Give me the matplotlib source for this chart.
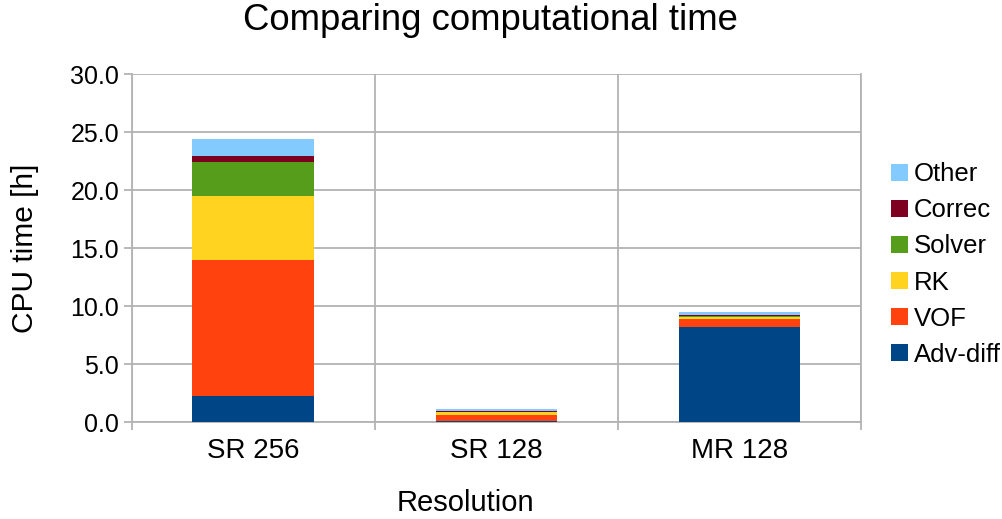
import matplotlib
matplotlib.use("Agg")
import matplotlib.pyplot as plt
import numpy as np

plt.rcParams['font.family'] = ['Liberation Sans', 'DejaVu Sans']

categories = ["SR 256", "SR 128", "MR 128"]
series_names = ["Adv-diff", "VOF", "RK", "Solver", "Correc", "Other"]
adv_diff = [2.3, 0.12, 8.24]
vof = [11.67, 0.55, 0.63]
rk = [5.53, 0.2, 0.2]
solver = [2.97, 0.05, 0.12]
correc = [0.53, 0.02, 0.05]
other = [1.46, 0.22, 0.25]
colors = ["#004586", "#ff420e", "#ffd320", "#579d1c", "#7e0021", "#83caff"]
yticks = [0, 5, 10, 15, 20, 25, 30]

series = [adv_diff, vof, rk, solver, correc, other]

W, H = 1003, 519
fig = plt.figure(figsize=(W / 100, H / 100), dpi=100)
ax_l, ax_r, ax_t, ax_b = 131.7, 861, 74.3, 422.3
ax = fig.add_axes([ax_l / W, 1 - ax_b / H, (ax_r - ax_l) / W, (ax_b - ax_t) / H])

x = np.arange(len(categories))
bottom = np.zeros(len(categories))
handles = []
for name, vals, c in zip(series_names, series, colors):
    b = ax.bar(x, vals, width=0.5, bottom=bottom, color=c, label=name, zorder=3)
    handles.append(b)
    bottom += np.array(vals)

ax.set_xlim(-0.5, len(categories) - 0.5)
ax.set_ylim(0, 30)
ax.set_yticks(yticks)
ax.set_yticklabels([f"{v:.1f}" for v in yticks])
ax.set_xticks(x)
ax.set_xticklabels(categories)
ax.set_xticks(np.arange(-0.5, len(categories), 1.0), minor=True)

grid_c = "#b3b3b3"
ax.yaxis.grid(True, color=grid_c, linewidth=1.3, zorder=0)
ax.xaxis.grid(True, which="minor", color=grid_c, linewidth=1.3, zorder=0)
ax.xaxis.grid(False, which="major")
for s in ["left", "bottom", "right"]:
    ax.spines[s].set_color(grid_c)
    ax.spines[s].set_linewidth(1.3)
ax.spines["top"].set_visible(False)
ax.tick_params(axis="x", which="major", length=0, labelsize=20, pad=11)
ax.tick_params(axis="x", which="minor", length=6, color=grid_c, width=1.3)
ax.tick_params(axis="y", length=6, color=grid_c, width=1.3, labelsize=18, pad=3)

fig.text(0.5 * (243 + 738) / W, 1 - 20 / H, "Comparing computational time",
         fontsize=26.3, ha="center", va="center")
ax.set_ylabel("CPU time [h]", fontsize=21.5, va="center")
ax.yaxis.set_label_coords((25 - ax_l) / (ax_r - ax_l), 0.5)
ax.set_xlabel("Resolution", fontsize=21, va="center")
ax.xaxis.set_label_coords(0.5 * (396.7 + 534 - 2 * ax_l) / (ax_r - ax_l),
                          -(503 - ax_b) / (ax_b - ax_t))

leg = fig.legend(handles[::-1], series_names[::-1], loc="center left",
                 bbox_to_anchor=(878 / W, 1 - 264.5 / H), frameon=False,
                 fontsize=18.5, handlelength=0.66, handleheight=0.66,
                 handletextpad=0.25, labelspacing=0.47, borderpad=0)

fig.savefig("out.png", dpi=100)
